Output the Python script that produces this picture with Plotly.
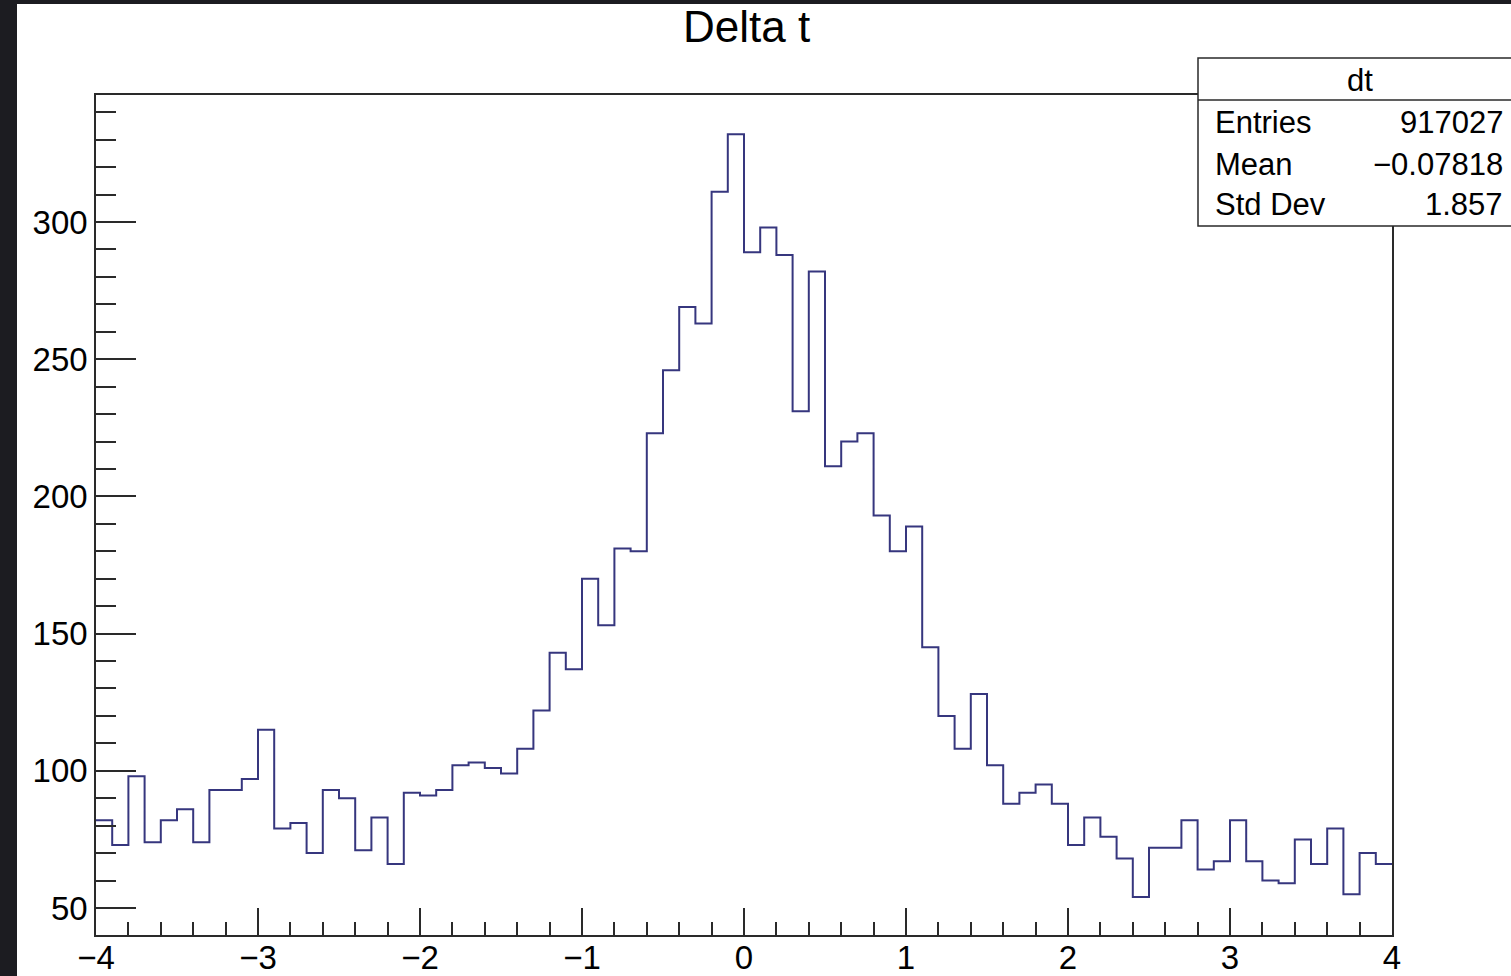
import numpy as np
import plotly.graph_objects as go

x_min = -4.0
x_max = 4.0
n_bins = 80
counts = [82, 73, 98, 74, 82, 86, 74, 93, 93, 97,
          115, 79, 81, 70, 93, 90, 71, 83, 66, 92,
          91, 93, 102, 103, 101, 99, 108, 122, 143, 137,
          170, 153, 181, 180, 223, 246, 269, 263, 311, 332,
          289, 298, 288, 231, 282, 211, 220, 223, 193, 180,
          189, 145, 120, 108, 128, 102, 88, 92, 95, 88,
          73, 83, 76, 68, 54, 72, 72, 82, 64, 67,
          82, 67, 60, 59, 75, 66, 79, 55, 70, 66]
stat_labels = ["Entries", "Mean", "Std Dev"]
stat_values = ["917027", "\u22120.07818", "1.857"]
hist_name = "dt"
title_text = "Delta t"

edges = np.linspace(x_min, x_max, n_bins + 1)
xs = list(edges)
ys = counts + [counts[-1]]

W, H = 1511, 976
FONT = "Liberation Sans, Arial, Helvetica, sans-serif"
FRAME = "#2a2a2a"
LINE = "#36367e"

def px(x):
    return x / W

def py(y):
    return 1 - y / H

fig = go.Figure()
fig.add_trace(go.Scatter(x=xs, y=ys, mode="lines", line=dict(color=LINE, width=2, shape="hv"),
                         hoverinfo="skip", showlegend=False))

fig.update_layout(
    width=W, height=H,
    margin=dict(l=0, r=0, t=0, b=0, pad=0, autoexpand=False),
    paper_bgcolor="#1c1c21",
    plot_bgcolor="white",
    font=dict(family=FONT, color="black"),
    showlegend=False,
)

fig.update_xaxes(
    domain=[px(96), px(1392)], range=[x_min, x_max], automargin=False,
    showgrid=False, zeroline=False,
    showline=True, linecolor=FRAME, linewidth=1.5, mirror=True,
    ticks="inside", ticklen=27, tickwidth=1.5, tickcolor=FRAME,
    tick0=0, dtick=1,
    minor=dict(ticks="inside", ticklen=13, tickwidth=1.5, tickcolor=FRAME, dtick=0.2, showgrid=False),
    tickfont=dict(size=33, family=FONT, color="black"),
    ticklabelstandoff=-7,
)
fig.update_yaxes(
    domain=[py(935), py(95)], range=[40.16, 346.28], automargin=False,
    showgrid=False, zeroline=False,
    showline=True, linecolor=FRAME, linewidth=1.5, mirror=True,
    ticks="inside", ticklen=40, tickwidth=1.5, tickcolor=FRAME,
    tick0=0, dtick=50,
    minor=dict(ticks="inside", ticklen=20, tickwidth=1.5, tickcolor=FRAME, dtick=10, showgrid=False),
    tickfont=dict(size=33, family=FONT, color="black"),
    ticklabelstandoff=0,
)

shapes = [
    # white canvas over dark screenshot border
    dict(type="rect", xref="paper", yref="paper", x0=px(17), x1=1.01, y0=-0.01, y1=py(4),
         fillcolor="white", line=dict(width=0), layer="below"),
    # stats box
    dict(type="rect", xref="paper", yref="paper", x0=px(1198), x1=px(1530), y0=py(226), y1=py(58),
         fillcolor="white", line=dict(color=FRAME, width=1.5), layer="above"),
    dict(type="line", xref="paper", yref="paper", x0=px(1198), x1=px(1530), y0=py(100), y1=py(100),
         line=dict(color=FRAME, width=1.5), layer="above"),
]
fig.update_layout(shapes=shapes)

ann = []
ann.append(dict(text=title_text, x=px(746), y=py(26), xref="paper", yref="paper",
                xanchor="center", yanchor="middle", showarrow=False,
                font=dict(size=44, family=FONT, color="black")))
ann.append(dict(text=hist_name, x=px(1360), y=py(81), xref="paper", yref="paper",
                xanchor="center", yanchor="middle", showarrow=False,
                font=dict(size=31, family=FONT, color="black")))
row_y = [123, 164, 205]
for lab, val, yy in zip(stat_labels, stat_values, row_y):
    ann.append(dict(text=lab, x=px(1213), y=py(yy), xref="paper", yref="paper",
                    xanchor="left", yanchor="middle", showarrow=False,
                    font=dict(size=31, family=FONT, color="black")))
    ann.append(dict(text=val, x=px(1505), y=py(yy), xref="paper", yref="paper",
                    xanchor="right", yanchor="middle", showarrow=False,
                    font=dict(size=31, family=FONT, color="black")))
fig.update_layout(annotations=ann)

fig.write_html("out.html", config={"displayModeBar": False},
               post_script="document.body.style.margin='0px';document.body.style.overflow='hidden';")
